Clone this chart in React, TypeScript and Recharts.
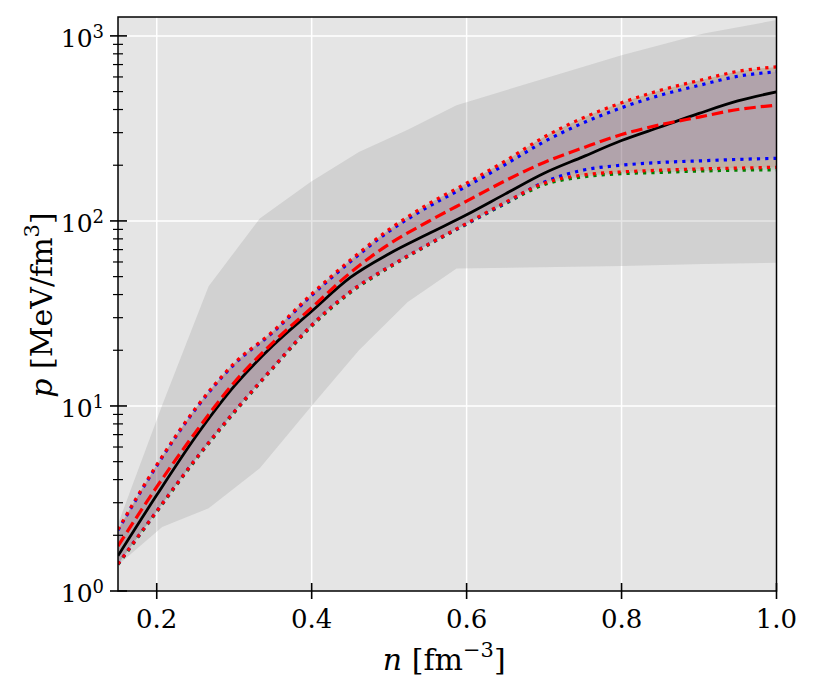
import { ComposedChart, Area, Line, XAxis, YAxis, CartesianGrid } from "recharts"

// density grid for the curves (fm^-3)
const densities = [0.15, 0.2, 0.25, 0.3, 0.35, 0.4, 0.45, 0.5, 0.55, 0.6, 0.65, 0.7, 0.75, 0.8, 0.85, 0.9, 0.95, 1.0]

// pressures (MeV/fm^3)
const pMedian = [1.55, 3.3, 6.8, 12.8, 21.2, 32.5, 49.5, 66.5, 85, 108, 140, 181, 222, 272, 322, 381, 445, 498]
const pDashed = [1.75, 3.65, 7.2, 13.4, 22, 34, 52.5, 75, 99, 128, 165, 207, 248, 293, 331, 364, 400, 422]
const redUpper = [2.15, 4.8, 9.7, 17, 25.3, 40.3, 61.5, 90, 123, 160, 211, 284, 360, 435, 508, 574, 643, 680]
const blueUpper = [2.13, 4.75, 9.6, 16.8, 25, 39.6, 60.3, 88, 119, 154, 202, 268, 338, 409, 478, 540, 605, 640]
const redLower = [1.4, 2.7, 5.15, 9.3, 16.1, 27.3, 41.5, 56.5, 74.5, 97, 126, 160, 177, 184, 188, 191, 193, 195]
const blueLower = [1.4, 2.7, 5.15, 9.3, 16.1, 27.3, 41.5, 56.5, 74.5, 96.5, 125, 162, 188, 200, 207, 211, 215, 218]
const greenLower = [1.39, 2.68, 5.1, 9.2, 16, 27, 41, 56, 74, 96, 124, 157, 173, 180, 183, 186, 188, 189]

// wide prior band
const outerN = [0.15, 0.207, 0.267, 0.333, 0.399, 0.461, 0.524, 0.587, 0.8, 0.906, 1.0]
const outerLow = [1.38, 2.22, 2.8, 4.6, 9.9, 20, 36.5, 55.4, 57, 58.5, 59.5]
const outerHigh = [2.3, 10.1, 44.4, 103, 163, 236, 311, 422, 787, 1030, 1217]

const xTicks = [0.2, 0.4, 0.6, 0.8, 1.0]
const yTicks = [
  1, 2, 3, 4, 5, 6, 7, 8, 9,
  10, 20, 30, 40, 50, 60, 70, 80, 90,
  100, 200, 300, 400, 500, 600, 700, 800, 900,
  1000,
]
const yMajor = [1, 10, 100, 1000]

const FONT = "DejaVu Serif"

const curveRows = densities.map((n, i) => ({
  n,
  median: pMedian[i],
  dashed: pDashed[i],
  redHi: redUpper[i],
  blueHi: blueUpper[i],
  redLo: redLower[i],
  blueLo: blueLower[i],
  greenLo: greenLower[i],
  redBand: [redLower[i], redUpper[i]],
  greenBand: [greenLower[i], redUpper[i]],
  blueBand: [blueLower[i], blueUpper[i]],
}))

const outerRows = outerN.map((n, i) => ({ n, outer: [outerLow[i], outerHigh[i]] }))

const W = 798
const H = 682
const M = { top: 9, right: 29.5, left: 10, bottom: 10 }
const Y_W = 100
const X_H = 89
const plot = { left: M.left + Y_W, top: M.top, right: W - M.right, bottom: H - M.bottom - X_H }

function YTick(props: any) {
  const { x, y, payload } = props
  const v = payload.value
  if (!yMajor.includes(v)) {
    return <line x1={x - 5} x2={x + 5} y1={y} y2={y} stroke="#000" strokeWidth={1.2} />
  }
  const exp = Math.round(Math.log10(v))
  return (
    <g>
      <line x1={x - 8} x2={x + 9} y1={y} y2={y} stroke="#000" strokeWidth={1.6} />
      <text x={x - 14} y={y + 11} textAnchor="end" fontFamily={FONT} fontSize={25} fill="#000">
        10
        <tspan dy={-9} fontSize={18}>{exp}</tspan>
      </text>
    </g>
  )
}

function XTick(props: any) {
  const { x, y, payload } = props
  return (
    <g>
      <line x1={x} x2={x} y1={y - 8} y2={y + 8} stroke="#000" strokeWidth={1.6} />
      <text x={x} y={y + 37} textAnchor="middle" fontFamily={FONT} fontSize={26} fill="#000">
        {payload.value.toFixed(1)}
      </text>
    </g>
  )
}

export default function App() {
  return (
    <div style={{ position: "relative", width: W, height: H }}>
      <ComposedChart width={W} height={H} data={curveRows} margin={M}>
        <CartesianGrid
          fill="#e5e5e5"
          fillOpacity={1}
          stroke="#ffffff"
          strokeWidth={1.5}
          horizontalValues={[10, 100, 1000]}
          verticalValues={[0.2, 0.4, 0.6, 0.8]}
        />
        <XAxis
          dataKey="n"
          type="number"
          domain={[0.15, 1.0]}
          allowDataOverflow
          ticks={xTicks}
          interval={0}
          tick={<XTick />}
          tickLine={false}
          axisLine={false}
          tickSize={0}
          tickMargin={0}
          height={X_H}
        />
        <YAxis
          type="number"
          scale="log"
          domain={[1, 1265]}
          allowDataOverflow
          ticks={yTicks}
          interval={0}
          tick={<YTick />}
          tickLine={false}
          axisLine={false}
          tickSize={0}
          tickMargin={0}
          width={Y_W}
        />
        <Area
          data={outerRows}
          dataKey="outer"
          type="linear"
          stroke="none"
          fill="#808080"
          fillOpacity={0.2}
          isAnimationActive={false}
          activeDot={false}
        />
        <Area dataKey="redBand" type="monotone" stroke="none" fill="#ff0000" fillOpacity={0.12} isAnimationActive={false} activeDot={false} />
        <Area dataKey="greenBand" type="monotone" stroke="none" fill="#008000" fillOpacity={0.1} isAnimationActive={false} activeDot={false} />
        <Area dataKey="blueBand" type="monotone" stroke="none" fill="#0000ff" fillOpacity={0.08} isAnimationActive={false} activeDot={false} />
        <Line dataKey="greenLo" type="monotone" stroke="#008000" strokeWidth={3.2} strokeDasharray="3.2 5.1" dot={false} isAnimationActive={false} />
        <Line dataKey="blueLo" type="monotone" stroke="#0000ff" strokeWidth={3.2} strokeDasharray="3.2 5.1" dot={false} isAnimationActive={false} />
        <Line dataKey="blueHi" type="monotone" stroke="#0000ff" strokeWidth={3.2} strokeDasharray="3.2 5.1" dot={false} isAnimationActive={false} />
        <Line dataKey="redLo" type="monotone" stroke="#ff0000" strokeWidth={3.2} strokeDasharray="3.2 5.1" dot={false} isAnimationActive={false} />
        <Line dataKey="redHi" type="monotone" stroke="#ff0000" strokeWidth={3.2} strokeDasharray="3.2 5.1" dot={false} isAnimationActive={false} />
        <Line dataKey="median" type="monotone" stroke="#000000" strokeWidth={2.8} dot={false} isAnimationActive={false} />
        <Line dataKey="dashed" type="monotone" stroke="#ff0000" strokeWidth={3.2} strokeDasharray="11.5 5" dot={false} isAnimationActive={false} />
      </ComposedChart>
      <svg
        width={W}
        height={H}
        style={{ position: "absolute", left: 0, top: 0, pointerEvents: "none" }}
      >
        <rect
          x={plot.left}
          y={plot.top}
          width={plot.right - plot.left}
          height={plot.bottom - plot.top}
          fill="none"
          stroke="#000"
          strokeWidth={1.5}
        />
        <text x={(plot.left + plot.right) / 2 - 3} y={662} textAnchor="middle" fontFamily={FONT} fontSize={30} fill="#000">
          <tspan fontStyle="italic">n</tspan>
          {" [fm"}
          <tspan dy={-13} fontSize={21}>−3</tspan>
          <tspan dy={13}>]</tspan>
        </text>
        <text
          transform={`translate(44, ${(plot.top + plot.bottom) / 2 + 1}) rotate(-90)`}
          textAnchor="middle"
          fontFamily={FONT}
          fontSize={30}
          fill="#000"
        >
          <tspan fontStyle="italic">p</tspan>
          {" [MeV/fm"}
          <tspan dy={-13} fontSize={21}>3</tspan>
          <tspan dy={13}>]</tspan>
        </text>
      </svg>
    </div>
  )
}
